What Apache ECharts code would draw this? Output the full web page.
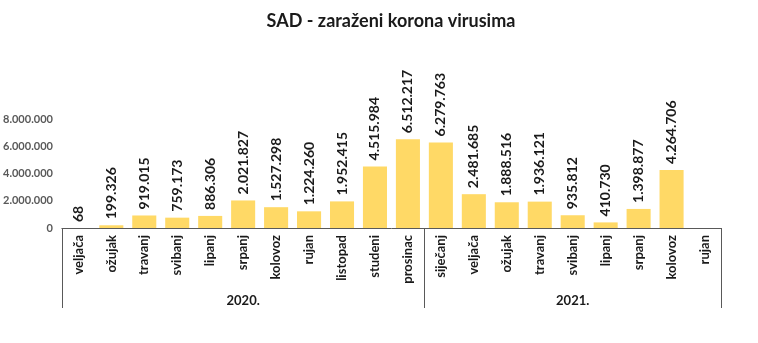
<!DOCTYPE html>
<html><head><meta charset="utf-8">
<script src="https://cdn.jsdelivr.net/npm/echarts@6/dist/echarts.min.js"></script>
<style>html,body{margin:0;padding:0;background:#fff}#c{width:758px;height:343px}</style>
</head><body><div id="c"></div>
<script>
const titleText = 'SAD - zaraženi korona virusima';
const months = ['veljača','ožujak','travanj','svibanj','lipanj','srpanj','kolovoz','rujan','listopad','studeni','prosinac',
                'siječanj','veljača','ožujak','travanj','svibanj','lipanj','srpanj','kolovoz','rujan'];
const years = ['2020.', '2021.'];
const yearStartIndex = [0, 11];
const yearLabelIndex = [5, 15];
const cases = [68,199326,919015,759173,886306,2021827,1527298,1224260,1952415,4515984,6512217,
               6279763,2481685,1888516,1936121,935812,410730,1398877,4264706,null];
const yTicks = [0, 2000000, 4000000, 6000000, 8000000];

const fmt = v => String(v).replace(/\B(?=(\d{3})+(?!\d))/g, '.');
const FONT = 'Lato, "Noto Sans", sans-serif';
const chart = echarts.init(document.getElementById('c'));
chart.setOption({
  animation: false,
  title: { text: titleText, left: 386, textAlign: 'center', top: 7,
    textStyle: { fontFamily: FONT, fontWeight: 'bold', fontSize: 18, color: '#1a1a1a' } },
  grid: { left: 61, right: 37, top: 119, bottom: 115, containLabel: false },
  xAxis: [{
    type: 'category', data: months, position: 'bottom',
    axisLine: { lineStyle: { color: '#595959', width: 1 } },
    axisTick: { show: false },
    axisLabel: { interval: 0, rotate: 90, margin: 7, fontFamily: FONT, fontWeight: 'bold', fontSize: 13, color: '#1a1a1a' }
  }, {
    type: 'category', data: months, position: 'bottom',
    axisLine: { show: false },
    axisTick: { show: true, length: 80, interval: i => yearStartIndex.includes(i), lineStyle: { color: '#595959' } },
    axisLabel: { margin: 66, interval: i => yearLabelIndex.includes(i),
      formatter: (v, i) => years[yearLabelIndex.indexOf(i)] || '',
      fontFamily: FONT, fontWeight: 'bold', fontSize: 13, color: '#1a1a1a' }
  }],
  yAxis: {
    type: 'value', min: 0, max: 8000000, interval: 2000000,
    splitLine: { show: false }, axisLine: { show: false }, axisTick: { show: false },
    axisLabel: { margin: 9, formatter: v => fmt(v), fontFamily: FONT, fontWeight: 'bold', fontSize: 11, color: '#595959' }
  },
  series: [{
    type: 'bar', xAxisIndex: 0, data: cases, barCategoryGap: '27%',
    itemStyle: { color: '#FFD966' },
    label: { show: true, position: 'top', rotate: 90, align: 'left', verticalAlign: 'middle', distance: 6,
      formatter: p => p.value == null ? '' : fmt(p.value),
      fontFamily: FONT, fontWeight: 'bold', fontSize: 14, color: '#1a1a1a' }
  }]
});
</script></body></html>
